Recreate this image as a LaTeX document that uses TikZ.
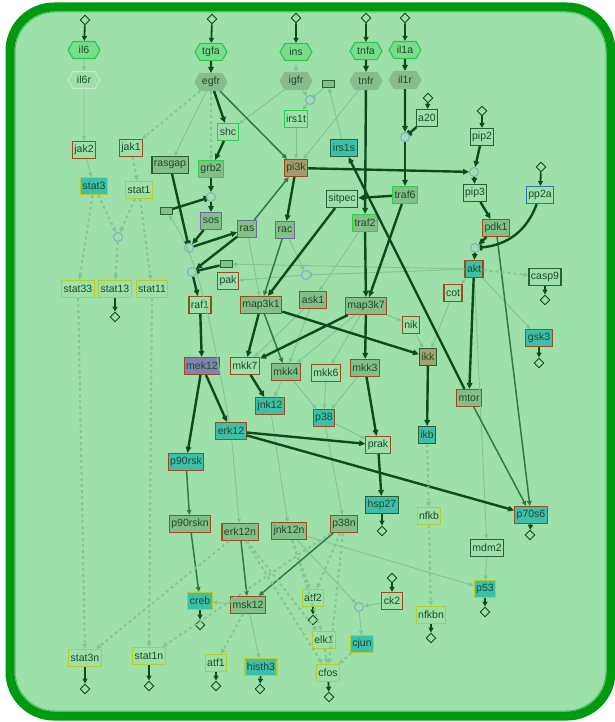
\documentclass[tikz,border=0pt]{standalone}
\usepackage{fontspec}
\setmainfont{Liberation Sans}
\usetikzlibrary{arrows.meta,shapes.geometric,shapes.symbols}
\definecolor{frame}{HTML}{009A10}
\definecolor{frameedge}{HTML}{4CC060}
\definecolor{paper}{HTML}{9EE0AA}
\definecolor{txt}{HTML}{1E4A2A}
\definecolor{dk}{HTML}{0D4A1C}
\definecolor{md}{HTML}{2F7A45}
\definecolor{lt}{HTML}{82C293}
\definecolor{ds}{HTML}{86C494}
\definecolor{gg}{HTML}{84BE88}
\definecolor{tl}{HTML}{3DBFA9}
\definecolor{pu}{HTML}{8282AE}
\definecolor{ol}{HTML}{A39B6F}
\definecolor{ok}{HTML}{A3A370}
\definecolor{brn}{HTML}{9C4A22}
\definecolor{yel}{HTML}{B5CC2A}
\definecolor{grn}{HTML}{2ECC4A}
\definecolor{dgr}{HTML}{2A5E35}
\definecolor{blu}{HTML}{2A78A8}
\definecolor{prp}{HTML}{6E6A96}
\definecolor{pale}{HTML}{C8E8CC}
\definecolor{hexf}{HTML}{7ADD8C}
\definecolor{hexd}{HTML}{2FC555}
\definecolor{recf}{HTML}{88BC8C}
\definecolor{circ}{HTML}{7CA9C9}
\tikzset{
  every node/.style={font=\fontsize{10.5}{12}\selectfont, text=txt},
  box/.style={rectangle, line width=1.1pt, minimum height=17pt, inner xsep=2pt, inner ysep=0pt, draw=#1},
  box/.default=brn,
  gray/.style={fill=gg},
  cyan/.style={fill=tl},
  hex/.style={signal, signal to=west and east, signal pointer angle=120, line width=1.1pt,
    minimum width=32pt, minimum height=17pt, inner xsep=1pt, inner ysep=0pt},
  lig/.style={hex, draw=hexd, fill=hexf},
  rec/.style={hex, draw=recf, fill=recf},
  sink/.style={diamond, draw=dk, line width=0.9pt, minimum size=10pt, inner sep=0pt},
  proc/.style={circle, draw=circ, line width=0.9pt, minimum size=9pt, inner sep=0pt},
  tag/.style={rectangle, draw=dgr, fill=gg, line width=0.9pt, minimum width=12pt, minimum height=7pt, inner sep=0pt},
  strong/.style={draw=dk, line width=2.4pt, -{Triangle[length=6pt,width=5.5pt]}},
  feed/.style={draw=dk, line width=1.8pt, -{Triangle[length=5pt,width=5pt]}},
  mid/.style={draw=md, line width=1.5pt, -{Triangle[length=5pt,width=4.5pt]}},
  weak/.style={draw=lt, line width=0.9pt, -{Triangle[length=4.5pt,width=4pt]}},
  trans/.style={draw=ds, line width=2pt, dash pattern=on 3pt off 3pt, -{Triangle[length=5pt,width=4.5pt]}},
  stop/.style={-{Bar[width=6pt]}},
}
\begin{document}
\begin{tikzpicture}[x=1pt,y=-1pt]
  \useasboundingbox (0,0) rectangle (615,722);
  \fill[white] (0,0) rectangle (615,722);
  \draw[frame, line width=9pt, fill=paper, rounded corners=44pt] (10,7) rectangle (611,716);
  \draw[frameedge, line width=1pt, rounded corners=40pt] (15,12) rectangle (606,711);

  % species
  \path
    (84,50) node[lig] (il6){il6}
    (211,52) node[lig] (tgfa){tgfa}
    (296,52) node[lig] (ins){ins}
    (366,51) node[lig] (tnfa){tnfa}
    (405,50) node[lig] (il1a){il1a}
    (84,80) node[hex, draw=pale] (il6r){il6r}
    (211,82) node[rec] (egfr){egfr}
    (296,81) node[rec] (igfr){igfr}
    (366,81) node[rec] (tnfr){tnfr}
    (405,80) node[rec] (il1r){il1r}
    (427,118) node[box=dgr] (a20){a20}
    (482,137) node[box=dgr] (pip2){pip2}
    (475,193) node[box=dgr] (pip3){pip3}
    (540,195) node[box=blu] (pp2a){pp2a}
    (296,119) node[box=grn] (irs1t){irs1t}
    (228,132) node[box=grn] (shc){shc}
    (344,148) node[box=dgr, cyan] (irs1s){irs1s}
    (296,168) node[box, fill=ol] (pi3k){pi3k}
    (211,169) node[box=grn, gray] (grb2){grb2}
    (84,150) node[box] (jak2){jak2}
    (131,148) node[box] (jak1){jak1}
    (170,165) node[box=dgr, gray] (rasgap){rasgap}
    (94,186) node[box=yel, cyan] (stat3){stat3}
    (139,190) node[box=yel] (stat1){stat1}
    (405,195) node[box=grn, gray] (traf6){traf6}
    (342,199) node[box=dgr] (sitpec){sitpec}
    (365,223) node[box=grn, gray] (traf2){traf2}
    (496,228) node[box, gray] (pdk1){pdk1}
    (474,269) node[box, cyan] (akt){akt}
    (545,277) node[box=dgr] (casp9){casp9}
    (453,293) node[box] (cot){cot}
    (411,325) node[box] (nik){nik}
    (428,357) node[box=dgr, fill=ok] (ikk){ikk}
    (539,338) node[box, cyan] (gsk3){gsk3}
    (469,398) node[box, gray] (mtor){mtor}
    (427,435) node[box=dgr, cyan] (ikb){ikb}
    (531,515) node[box, cyan] (p70s6){p70s6}
    (429,516) node[box=yel] (nfkb){nfkb}
    (487,548) node[box=dgr] (mdm2){mdm2}
    (485,589) node[box=yel, cyan] (p53){p53}
    (431,615) node[box=yel] (nfkbn){nfkbn}
    (211,221) node[box=prp, gray] (sos){sos}
    (247,229) node[box=prp, gray] (ras){ras}
    (285,230) node[box=prp, gray] (rac){rac}
    (228,281) node[box] (pak){pak}
    (200,305) node[box] (raf1){raf1}
    (78,289) node[box=yel] (stat33){stat33}
    (115,289) node[box=yel] (stat13){stat13}
    (152,289) node[box=yel] (stat11){stat11}
    (261,305) node[box, gray] (map3k1){map3k1}
    (313,300) node[box, gray] (ask1){ask1}
    (366,306) node[box, gray] (map3k7){map3k7}
    (202,366) node[box, fill=pu] (mek12){mek12}
    (245,366) node[box] (mkk7){mkk7}
    (286,372) node[box, gray] (mkk4){mkk4}
    (326,373) node[box] (mkk6){mkk6}
    (365,368) node[box, gray] (mkk3){mkk3}
    (270,406) node[box, cyan] (jnk12){jnk12}
    (324,418) node[box, cyan] (p38){p38}
    (231,431) node[box, cyan] (erk12){erk12}
    (378,445) node[box] (prak){prak}
    (382,505) node[box=dgr, cyan] (hsp27){hsp27}
    (186,462) node[box, cyan] (p90rsk){p90rsk}
    (190,524) node[box, gray] (p90rskn){p90rskn}
    (240,532) node[box, gray] (erk12n){erk12n}
    (289,531) node[box, gray] (jnk12n){jnk12n}
    (344,524) node[box, gray] (p38n){p38n}
    (200,601) node[box=yel, cyan] (creb){creb}
    (248,605) node[box, gray] (msk12){msk12}
    (313,598) node[box=yel] (atf2){atf2}
    (392,601) node[box] (ck2){ck2}
    (324,640) node[box=yel] (elk1){elk1}
    (362,644) node[box=yel, cyan] (cjun){cjun}
    (328,673) node[box=yel] (cfos){cfos}
    (216,663) node[box=yel] (atf1){atf1}
    (261,667) node[box=yel, cyan] (histh3){histh3}
    (85,658) node[box=yel] (stat3n){stat3n}
    (149,656) node[box=yel] (stat1n){stat1n};

  % sources, sinks and process points
  \path
    (85,20) node[sink] (il6src){} (212,19) node[sink] (tgfasrc){}
    (296,18) node[sink] (inssrc){} (366,18) node[sink] (tnfasrc){}
    (405,18) node[sink] (il1asrc){} (428,98) node[sink] (a20src){}
    (482,111) node[sink] (pip2src){} (541,167) node[sink] (pp2asrc){}
    (392,578) node[sink] (ck2src){}
    (115,317) node[sink] (stat13end){} (545,300) node[sink] (casp9end){}
    (539,363) node[sink] (gsk3end){} (530,535) node[sink] (p70s6end){}
    (382,531) node[sink] (hsp27end){} (485,612) node[sink] (p53end){}
    (431,638) node[sink] (nfkbnend){} (200,625) node[sink] (crebend){}
    (313,620) node[sink] (atf2end){} (329,697) node[sink] (cfosend){}
    (216,686) node[sink] (atf1end){} (260,689) node[sink] (histh3end){}
    (85,689) node[sink] (stat3nend){} (149,686) node[sink] (stat1nend){}
    (310,100) node[proc] (c1){} (405,137) node[proc] (c2){}
    (474,172) node[proc] (c3){} (211,197) node[proc] (c4){}
    (118,237) node[proc] (c5){} (189,248) node[proc] (c6){}
    (192,272) node[proc] (c7){} (306,275) node[proc] (c8){}
    (475,248) node[proc] (c9){} (359,607) node[proc] (c10){}
    (328,84) node[tag] (t1){} (166,211) node[tag] (t2){} (226,264) node[tag] (t3){};

  \begin{scope}[feed]
    \draw (il6src) -- (il6); \draw (tgfasrc) -- (tgfa); \draw (inssrc) -- (ins);
    \draw (tnfasrc) -- (tnfa); \draw (il1asrc) -- (il1a); \draw (a20src) -- (a20);
    \draw (pip2src) -- (pip2); \draw (pp2asrc) -- (pp2a); \draw (ck2src) -- (ck2);
    \draw (stat13) -- (stat13end); \draw (casp9) -- (casp9end); \draw (gsk3) -- (gsk3end);
    \draw (p70s6) -- (p70s6end); \draw (hsp27) -- (hsp27end); \draw (p53) -- (p53end);
    \draw (nfkbn) -- (nfkbnend); \draw (creb) -- (crebend); \draw (atf2) -- (atf2end);
    \draw (cfos) -- (cfosend); \draw (atf1) -- (atf1end); \draw (histh3) -- (histh3end);
    \draw (stat3n) -- (stat3nend); \draw (stat1n) -- (stat1nend);
  \end{scope}

  \begin{scope}[weak]
    \draw (il6) -- (il6r); \draw (ins) -- (igfr); \draw (il6r) -- (jak2);
    \draw (egfr) -- (rasgap); \draw (igfr) -- (shc); \draw (igfr) -- (c1);
    \draw[stop] (t1) -- (c1); \draw (c1) -- (irs1t); \draw (irs1s) -- (t1);
    \draw (irs1t) -- (pi3k); \draw (tnfr) -- (pi3k); \draw (jak2) -- (stat3);
    \draw (erk12) .. controls (212,330) and (200,260) .. (t2);
    \draw (akt) -- (t3); \draw[stop] (akt) -- (c8); \draw (rac) -- (c8); \draw (c8) -- (pak);
    \draw (ras) -- (map3k1); \draw (traf2) -- (ask1);
    \draw (ask1) -- (mkk7); \draw (ask1) -- (mkk4); \draw (map3k7) -- (mkk4);
    \draw (map3k7) -- (mkk6); \draw (map3k7) -- (nik);
    \draw (akt) -- (cot); \draw (cot) -- (ikk); \draw (nik) -- (ikk);
    \draw (akt) -- (gsk3); \draw (akt) -- (mdm2); \draw (mdm2) -- (p53);
    \draw (mkk4) -- (jnk12); \draw (mkk4) -- (p38); \draw (mkk6) -- (p38);
    \draw (mkk3) -- (p38); \draw (p38) -- (prak);
    \draw (erk12) -- (erk12n); \draw (jnk12) -- (jnk12n); \draw (p38) -- (p38n);
    \draw (msk12) -- (creb); \draw (msk12) -- (histh3);
    \draw (jnk12n) -- (c10); \draw (ck2) -- (c10); \draw (c10) -- (cjun);
    \draw (jnk12n) -- (p53);
  \end{scope}

  \begin{scope}[mid]
    \draw (egfr) -- (pi3k); \draw (ras) -- (pi3k); \draw (rac) -- (map3k1);
    \draw (map3k1) -- (mkk4); \draw (pdk1) -- (p70s6); \draw (mtor) -- (p70s6);
    \draw (p90rsk) -- (p90rskn); \draw (p90rskn) -- (creb);
    \draw (erk12n) -- (msk12); \draw (p38n) -- (msk12);
  \end{scope}

  \begin{scope}[strong]
    \draw (tgfa) -- (egfr); \draw (tnfa) -- (tnfr); \draw (il1a) -- (il1r);
    \draw (egfr) -- (shc); \draw (tnfr) -- (traf2);
    \draw (il1r) -- (c2); \draw[stop] (a20) -- (c2); \draw (c2) -- (traf6);
    \draw (traf6) -- (sitpec); \draw (traf6) -- (map3k7);
    \draw (pi3k) -- (c3); \draw (pip2) -- (c3); \draw (c3) -- (pip3);
    \draw (pip3) -- (pdk1); \draw (pdk1) -- (c9);
    \draw[stop] (pp2a) to[out=-110,in=5] (c9); \draw (c9) -- (akt);
    \draw (shc) -- (grb2); \draw (grb2) -- (c4); \draw (c4) -- (sos);
    \draw[stop] (t2) -- (c4); \draw[stop] (rasgap) -- (c6); \draw (sos) -- (c6);
    \draw (c6) -- (ras); \draw (ras) -- (c7); \draw[stop] (t3) -- (c7);
    \draw (c7) -- (raf1);
    \draw (pi3k) -- (rac); \draw (sitpec) -- (map3k1); \draw (traf2) -- (map3k7);
    \draw (mtor) -- (irs1s);
    \draw (map3k1) -- (mkk7); \draw (map3k1) -- (ikk); \draw (map3k7) -- (mkk7);
    \draw (map3k7) -- (mkk3); \draw (ikk) -- (ikb); \draw (akt) -- (mtor);
    \draw (raf1) -- (mek12); \draw (mek12) -- (erk12); \draw (mek12) -- (p90rsk);
    \draw (mkk7) -- (jnk12); \draw (mkk3) -- (prak); \draw (erk12) -- (prak);
    \draw (erk12) -- (p70s6); \draw (prak) -- (hsp27);
  \end{scope}

  \begin{scope}[trans]
    \draw (egfr) -- (jak1); \draw (egfr) -- (grb2); \draw (jak1) -- (stat1);
    \draw (stat3) -- (stat33); \draw (stat3) -- (c5); \draw (stat1) -- (c5);
    \draw (c5) -- (stat13); \draw (stat1) -- (stat11);
    \draw (stat33) -- (stat3n); \draw (stat11) -- (stat1n);
    \draw (akt) -- (casp9); \draw (ikb) -- (nfkb); \draw (nfkb) -- (nfkbn);
    \draw (msk12) -- (atf1);
    \draw (erk12n) -- (stat3n); \draw (p38n) -- (stat1n);
    \draw (jnk12n) -- (atf2); \draw (p38n) -- (atf2);
    \draw (erk12n) -- (elk1); \draw (jnk12n) -- (elk1);
    \draw (erk12n) -- (cfos); \draw (p38n) -- (cfos);
    \draw (elk1) -- (cfos); \draw (cjun) -- (cfos);
  \end{scope}
\end{tikzpicture}
\end{document}
